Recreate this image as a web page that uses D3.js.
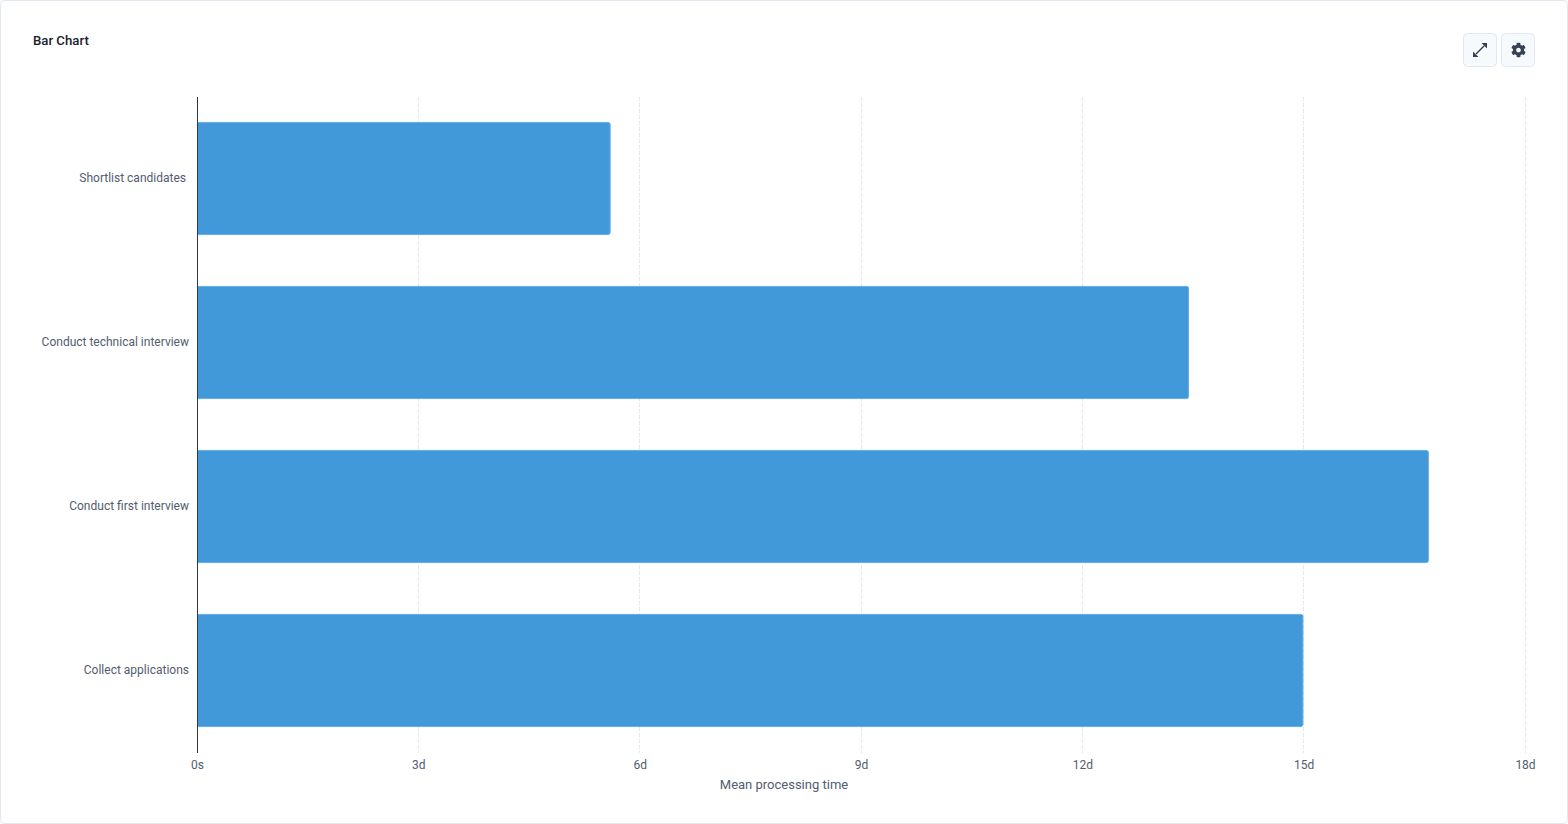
<!DOCTYPE html>
<html>
<head>
<meta charset="utf-8">
<script src="https://cdn.jsdelivr.net/npm/d3@7"></script>
<style>
html,body{margin:0;padding:0;background:#fff;overflow:hidden}
text{font-family:Roboto,"Noto Sans",sans-serif}
</style>
</head>
<body>
<svg id="c" width="1568" height="824"></svg>
<script>
const title = "Bar Chart";
const xTitle = "Mean processing time";
const categories = ["Shortlist candidates","Conduct technical interview","Conduct first interview","Collect applications"];
const meanDays = [5.6,13.44,16.69,14.99];
const tickDays = [0,3,6,9,12,15,18];
const tickLabels = ["0s","3d","6d","9d","12d","15d","18d"];

const FONT = 'Roboto,"Noto Sans",sans-serif';
const TEXT = "#525d70";
const svg = d3.select("#c");
const L = 197, R = 1525, T = 97, B = 753;
const x = d3.scaleLinear().domain([0,18]).range([L,R]);
const y = d3.scaleBand().domain(categories).range([T-0.5,B-0.5]).paddingInner(0.31).paddingOuter(0.155);
const snap = v => Math.floor(v)+0.5;

// card
svg.append("rect").attr("x",0.5).attr("y",0.5).attr("width",1567).attr("height",823).attr("rx",4)
  .attr("fill","#fff").attr("stroke","#e2e8f0");
svg.append("text").attr("x",33).attr("y",45).attr("font-size",13.2).attr("font-weight",500).attr("fill","#1a202c").text(title);

// grid
svg.append("g").selectAll("line").data(tickDays.slice(1)).join("line")
  .attr("x1",d=>snap(x(d))).attr("x2",d=>snap(x(d))).attr("y1",T).attr("y2",B)
  .attr("stroke","#e2e8f0").attr("stroke-dasharray","4,2");

// bars, rounded on the right only
const r = 2;
svg.append("g").selectAll("path").data(categories).join("path")
  .attr("d",(c,i)=>{
    const x0=L+0.5, x1=x(meanDays[i]), y0=y(c)+0.5, y1=y0+y.bandwidth()-1;
    return `M${x0},${y0}H${x1-r}Q${x1},${y0} ${x1},${y0+r}V${y1-r}Q${x1},${y1} ${x1-r},${y1}H${x0}Z`;
  })
  .attr("fill","#4299da").attr("stroke","#63ade6").attr("stroke-width",1);

// zero line
svg.append("line").attr("x1",L+0.5).attr("x2",L+0.5).attr("y1",T).attr("y2",B).attr("stroke","#2d3748");

// x axis
const gx = svg.append("g").attr("transform",`translate(0,${B})`)
  .call(d3.axisBottom(x).tickValues(tickDays).tickSize(0).tickPadding(7).tickFormat((d,i)=>tickLabels[i]));
gx.select(".domain").remove();
gx.selectAll("text").attr("font-size",12).attr("fill",TEXT).style("font-family",FONT);

svg.append("text").attr("x",784).attr("y",789).attr("text-anchor","middle").attr("font-size",13).attr("fill",TEXT).text(xTitle);

// y labels
const gy = svg.append("g").attr("transform",`translate(${L},0)`)
  .call(d3.axisLeft(y).tickSize(0).tickPadding(8));
gy.select(".domain").remove();
gy.selectAll("text").attr("font-size",12).attr("fill",TEXT).style("font-family",FONT);
gy.selectAll("text").filter(d=>d===categories[0]).attr("dx",-3);

// buttons
[1463,1501].forEach(bx=>{
  svg.append("rect").attr("x",bx+0.5).attr("y",33.5).attr("width",33).attr("height",33).attr("rx",4)
    .attr("fill","#f7fafc").attr("stroke","#e2e8f0");
});
const ic = "#364254";
const exp = svg.append("g").attr("transform","translate(1480,50)");
exp.append("line").attr("x1",-4).attr("y1",4).attr("x2",4).attr("y2",-4).attr("stroke",ic).attr("stroke-width",1.4);
exp.append("path").attr("d","M1.5,-7H7V-1.5Z").attr("fill",ic);
exp.append("path").attr("d","M-7,1.5V7H-1.5Z").attr("fill",ic);
svg.append("path").attr("transform","translate(1511,42.5) scale(0.0293)").attr("fill",ic)
  .attr("d","M487.4 315.7l-42.6-24.6c4.3-23.2 4.3-47 0-70.2l42.6-24.6c4.9-2.8 7.1-8.6 5.5-14-11.1-35.6-30-67.8-54.7-94.6-3.8-4.1-10-5.1-14.8-2.3L380.8 110c-17.9-15.4-38.5-27.3-60.8-35.1V25.8c0-5.6-3.9-10.5-9.4-11.7-36.7-8.2-74.3-7.8-109.2 0-5.5 1.2-9.4 6.1-9.4 11.7V75c-22.2 7.9-42.8 19.8-60.8 35.1L88.7 85.5c-4.9-2.8-11-1.9-14.8 2.3-24.7 26.7-43.6 58.9-54.7 94.6-1.7 5.4.6 11.2 5.5 14L67.3 221c-4.3 23.2-4.3 47 0 70.2l-42.6 24.6c-4.9 2.8-7.1 8.6-5.5 14 11.1 35.6 30 67.8 54.7 94.6 3.8 4.1 10 5.1 14.8 2.3l42.6-24.6c17.9 15.4 38.5 27.3 60.8 35.1v49.2c0 5.6 3.9 10.5 9.4 11.7 36.7 8.2 74.3 7.8 109.2 0 5.5-1.2 9.4-6.1 9.4-11.7v-49.2c22.2-7.9 42.8-19.8 60.8-35.1l42.6 24.6c4.9 2.8 11 1.9 14.8-2.3 24.7-26.7 43.6-58.9 54.7-94.6 1.5-5.5-.7-11.3-5.6-14.1zM256 336c-44.1 0-80-35.9-80-80s35.9-80 80-80 80 35.9 80 80-35.9 80-80 80z");
</script>
</body>
</html>
